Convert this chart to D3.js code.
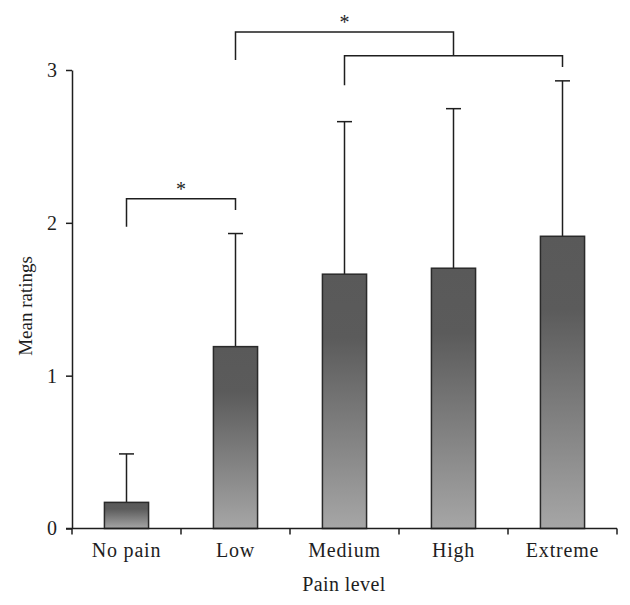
<!DOCTYPE html>
<html><head><meta charset="utf-8">
<script src="https://cdn.jsdelivr.net/npm/d3@7"></script>
<style>body{margin:0;background:#fff}svg{display:block}</style>
</head><body>
<svg id="c" width="630" height="605"></svg>
<script>
const categories = ["No pain","Low","Medium","High","Extreme"];
const means = [0.171, 1.19, 1.664, 1.703, 1.912];
const errTops = [0.488, 1.93, 2.662, 2.747, 2.929];
const yTicks = [0,1,2,3];
// significance brackets
const brackets = [
  {from:"No pain", to:"Low", y:2.158, l:1.975, r:2.084, star:true},
  {from:"Low", to:"High", y:3.249, l:3.066, r:3.094, star:true},
  {from:"Medium", to:"Extreme", y:3.094, l:2.90, r:3.02, star:false}
];

const svg = d3.select("#c");
const x = d3.scaleBand().domain(categories).range([72, 617]).padding(0);
const y = d3.scaleLinear().domain([0,3]).range([528.5, 70]);
const font = "'Liberation Serif','Times New Roman',serif";
const barW = x.bandwidth()*0.405;

const defs = svg.append("defs");
const g = defs.append("linearGradient").attr("id","grad").attr("x1",0).attr("y1",0).attr("x2",0).attr("y2",1);
g.append("stop").attr("offset","0%").attr("stop-color","#595959");
g.append("stop").attr("offset","25%").attr("stop-color","#5b5b5b");
g.append("stop").attr("offset","100%").attr("stop-color","#a6a6a6");

const data = categories.map((c,i)=>({c, m:means[i], e:errTops[i]}));
const cx = c=>x(c)+x.bandwidth()/2;

// error bars
svg.selectAll(".eb").data(data).join("line")
  .attr("x1",d=>cx(d.c)).attr("x2",d=>cx(d.c))
  .attr("y1",d=>y(d.m)).attr("y2",d=>y(d.e))
  .attr("stroke","#1e1e1e").attr("stroke-width",1.5);
svg.selectAll(".cap").data(data).join("line")
  .attr("x1",d=>cx(d.c)-7.5).attr("x2",d=>cx(d.c)+7.5)
  .attr("y1",d=>y(d.e)).attr("y2",d=>y(d.e))
  .attr("stroke","#1e1e1e").attr("stroke-width",1.5);

// bars
svg.selectAll(".bar").data(data).join("rect")
  .attr("x",d=>cx(d.c)-barW/2).attr("width",barW)
  .attr("y",d=>y(d.m)).attr("height",d=>y(0)-y(d.m))
  .attr("fill","url(#grad)").attr("stroke","#2a2a2a").attr("stroke-width",1.5);

// y axis
const ya = svg.append("g").attr("transform","translate(72,0)")
  .call(d3.axisLeft(y).tickValues(yTicks).tickFormat(d3.format("d")).tickSize(6).tickSizeOuter(0).tickPadding(9));
ya.select(".domain").attr("stroke","#1e1e1e").attr("stroke-width",1.5);
ya.selectAll(".tick line").attr("stroke","#1e1e1e").attr("stroke-width",1.5);
ya.selectAll("text").attr("font-family",font).attr("font-size",20).attr("fill","#1e1e1e");

// x axis
const xa = svg.append("g").attr("transform",`translate(0,${y(0)})`)
  .call(d3.axisBottom(x).tickSize(0).tickSizeOuter(0).tickPadding(14));
xa.select(".domain").attr("d","M66,0H617").attr("stroke","#1e1e1e").attr("stroke-width",1.5);
xa.selectAll("text").attr("font-family",font).attr("font-size",20)
  .attr("letter-spacing","0.8px").attr("fill","#1e1e1e");
const bounds = categories.map(c=>x(c)).concat([x.range()[1]]);
svg.selectAll(".xt").data(bounds).join("line")
  .attr("x1",d=>d).attr("x2",d=>d).attr("y1",y(0)).attr("y2",y(0)+6)
  .attr("stroke","#1e1e1e").attr("stroke-width",1.5);

// axis titles
svg.append("text").attr("x",344).attr("y",591).attr("text-anchor","middle")
  .attr("font-family",font).attr("font-size",20).attr("letter-spacing","0.4px")
  .attr("fill","#1e1e1e").text("Pain level");
svg.append("text").attr("transform","translate(32,306) rotate(-90)").attr("text-anchor","middle")
  .attr("font-family",font).attr("font-size",19).attr("fill","#1e1e1e").text("Mean ratings");

// brackets
brackets.forEach(b=>{
  const x1 = cx(b.from), x2 = cx(b.to);
  svg.append("path")
    .attr("d",`M${x1},${y(b.l)}V${y(b.y)}H${x2}V${y(b.r)}`)
    .attr("fill","none").attr("stroke","#1e1e1e").attr("stroke-width",1.5);
  if(b.star){
    svg.append("text").attr("x",(x1+x2)/2).attr("y",y(b.y)-3).attr("text-anchor","middle")
      .attr("font-family",font).attr("font-size",20).attr("fill","#1e1e1e").text("*");
  }
});
</script>
</body></html>
